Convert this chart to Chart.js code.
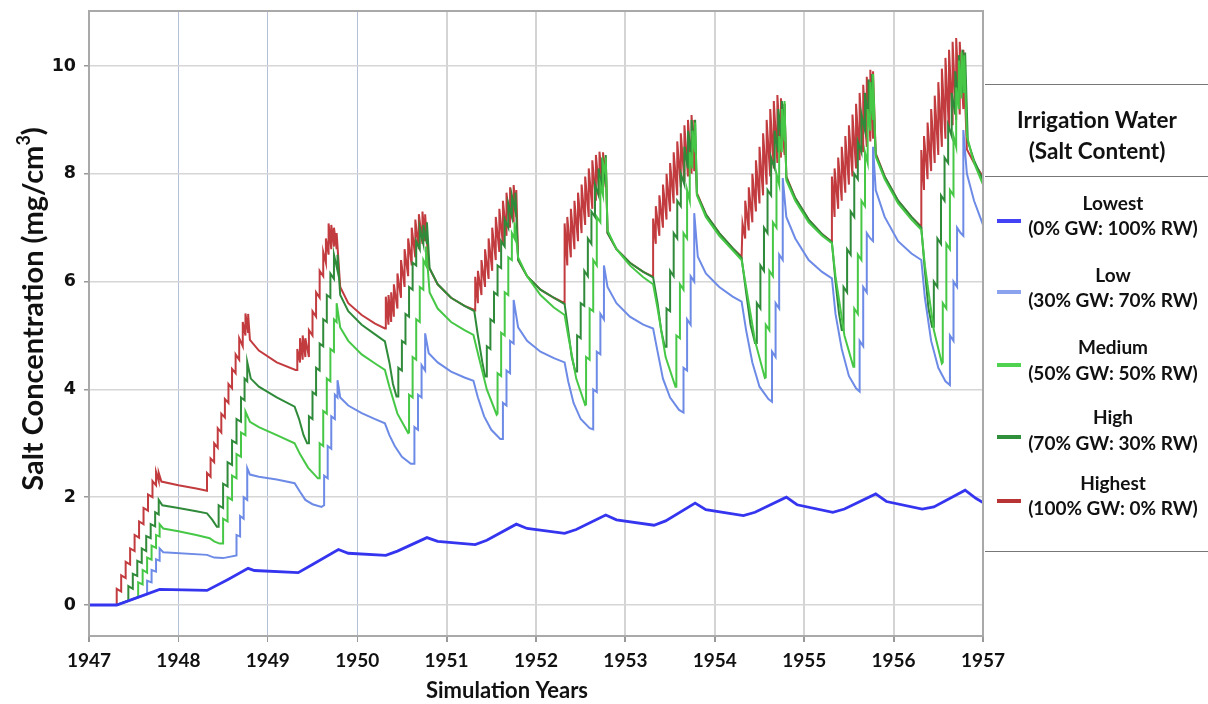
<!DOCTYPE html>
<html lang="en">
<head>
<meta charset="UTF-8">
<title>Salt Concentration - Simulation Years</title>
<script src="https://cdn.jsdelivr.net/npm/chart.js"></script>
<style>
  body { margin: 0; background: #fff; }
  #wrap { position: relative; width: 1208px; height: 704px; overflow: hidden; }
  #chart { position: absolute; left: 0; top: 0; }
  .rule { position: absolute; left: 985px; width: 223px; height: 0; border-top: 1px solid #777; }
  .txt { position: absolute; width: 240px; height: 24px; line-height: 24px; text-align: center;
         font-family: Lato, sans-serif; font-weight: bold; color: #111; white-space: nowrap; }
  .ttl { font-size: 22.5px; left: 977px; }
  .ent { font-size: 19px; left: 993px; }
  .sw { position: absolute; left: 997px; width: 24px; height: 4px; }
</style>
</head>
<body>
<div id="wrap">
  <canvas id="chart" width="1208" height="704"></canvas>

  <div class="rule" style="top:84px"></div>
  <div class="txt ttl" style="top:108px">Irrigation Water</div>
  <div class="txt ttl" style="top:139px">(Salt Content)</div>
  <div class="rule" style="top:176px"></div>

  <div class="sw" style="top:219px;background:#4343f5"></div>
  <div class="txt ent" style="top:191px">Lowest</div>
  <div class="txt ent" style="top:216px">(0% GW: 100% RW)</div>

  <div class="sw" style="top:290px;background:#8ba2ee"></div>
  <div class="txt ent" style="top:263px">Low</div>
  <div class="txt ent" style="top:288px">(30% GW: 70% RW)</div>

  <div class="sw" style="top:363px;background:#4fd24f"></div>
  <div class="txt ent" style="top:335px">Medium</div>
  <div class="txt ent" style="top:361px">(50% GW: 50% RW)</div>

  <div class="sw" style="top:435px;background:#2f8f3a"></div>
  <div class="txt ent" style="top:405px">High</div>
  <div class="txt ent" style="top:431px">(70% GW: 30% RW)</div>

  <div class="sw" style="top:499px;background:#b83434"></div>
  <div class="txt ent" style="top:471px">Highest</div>
  <div class="txt ent" style="top:496px">(100% GW: 0% RW)</div>

  <div class="rule" style="top:551px"></div>
</div>
<script>
// tick labels
const yearTicks = [1947, 1948, 1949, 1950, 1951, 1952, 1953, 1954, 1955, 1956, 1957];
const concTicks = [0, 2, 4, 6, 8, 10];

// series values, [simulation year, salt concentration mg/cm3]
const lowestPts = [
  [1947,0],[1947.31,0],[1947.79,0.29],[1948.32,0.27],[1948.55,0.47],[1948.78,0.68],[1948.85,0.64],
  [1949.34,0.6],[1949.5,0.75],[1949.79,1.03],[1949.9,0.96],[1950.32,0.92],[1950.45,1.0],[1950.78,1.25],
  [1950.9,1.18],[1951.32,1.12],[1951.45,1.2],[1951.78,1.5],[1951.9,1.42],[1952.32,1.33],[1952.45,1.4],
  [1952.78,1.67],[1952.9,1.58],[1953.32,1.48],[1953.45,1.56],[1953.78,1.89],[1953.9,1.77],[1954.32,1.66],
  [1954.45,1.72],[1954.8,2.0],[1954.92,1.86],[1955.32,1.72],[1955.45,1.78],[1955.8,2.06],[1955.92,1.92],
  [1956.32,1.78],[1956.45,1.82],[1956.8,2.13],[1956.92,1.98],[1957,1.9]
];

const lowPts = [
  [1947,0],[1947.31,0],[1947.65,0.2],[1947.65,0.45],[1947.7,0.42],[1947.7,0.65],[1947.75,0.62],[1947.75,0.85],
  [1947.79,0.82],[1947.79,1.05],[1947.83,0.98],[1948.32,0.93],[1948.4,0.88],[1948.5,0.87],[1948.65,0.92],
  [1948.65,1.3],[1948.69,1.27],[1948.69,1.65],[1948.73,1.6],[1948.73,2.0],[1948.77,1.95],[1948.77,2.54],[1948.8,2.42],
  [1948.9,2.38],[1949.1,2.33],[1949.3,2.26],
  [1949.36,2.1],[1949.42,1.95],[1949.5,1.87],[1949.6,1.82],[1949.63,1.85],
  [1949.63,2.4],[1949.67,2.35],[1949.67,2.95],[1949.71,2.9],[1949.71,3.5],[1949.75,3.45],[1949.75,3.9],[1949.78,3.85],[1949.78,4.17],[1949.81,3.85],
  [1949.9,3.7],[1950.05,3.56],[1950.2,3.45],[1950.31,3.37],
  [1950.36,3.15],[1950.42,2.95],[1950.5,2.75],[1950.6,2.62],[1950.64,2.62],
  [1950.64,3.3],[1950.68,3.25],[1950.68,3.9],[1950.72,3.85],[1950.72,4.45],[1950.76,4.35],[1950.76,5.04],[1950.8,4.67],
  [1950.9,4.5],[1951.05,4.33],[1951.2,4.22],[1951.3,4.16],
  [1951.35,3.85],[1951.42,3.5],[1951.5,3.25],[1951.6,3.08],[1951.63,3.08],
  [1951.63,3.75],[1951.67,3.7],[1951.67,4.35],[1951.71,4.3],[1951.71,4.9],[1951.75,4.85],[1951.75,5.66],[1951.8,5.15],
  [1951.9,4.9],[1952.05,4.7],[1952.2,4.58],[1952.32,4.5],
  [1952.36,4.15],[1952.42,3.75],[1952.5,3.45],[1952.6,3.28],[1952.64,3.26],
  [1952.64,4.0],[1952.68,3.95],[1952.68,4.7],[1952.72,4.65],[1952.72,5.4],[1952.76,5.3],[1952.76,6.3],[1952.8,5.9],
  [1952.9,5.6],[1953.05,5.35],[1953.2,5.2],[1953.31,5.13],
  [1953.36,4.7],[1953.42,4.2],[1953.5,3.85],[1953.6,3.62],[1953.65,3.57],
  [1953.65,4.4],[1953.69,4.35],[1953.69,5.3],[1953.73,5.2],[1953.73,6.1],[1953.77,6.0],[1953.77,7.27],[1953.81,6.46],
  [1953.9,6.15],[1954.05,5.9],[1954.2,5.72],[1954.3,5.63],
  [1954.35,5.1],[1954.42,4.5],[1954.5,4.05],[1954.6,3.82],[1954.64,3.77],
  [1954.64,4.7],[1954.68,4.6],[1954.68,5.6],[1954.72,5.5],[1954.72,6.5],[1954.76,6.4],[1954.76,7.92],[1954.8,7.2],
  [1954.9,6.8],[1955.05,6.4],[1955.2,6.18],[1955.31,6.06],
  [1955.35,5.4],[1955.42,4.75],[1955.5,4.25],[1955.58,4.02],[1955.62,3.96],
  [1955.62,4.9],[1955.66,4.8],[1955.66,5.9],[1955.7,5.8],[1955.7,6.9],[1955.74,6.8],[1955.77,6.75],[1955.77,8.5],[1955.8,7.7],
  [1955.9,7.2],[1956.05,6.75],[1956.2,6.52],[1956.31,6.4],
  [1956.35,5.7],[1956.42,4.9],[1956.5,4.4],[1956.58,4.15],[1956.63,4.08],
  [1956.63,5.0],[1956.67,4.9],[1956.67,6.0],[1956.71,5.9],[1956.71,7.0],[1956.75,6.9],[1956.78,6.85],[1956.78,8.81],[1956.82,8.0],
  [1956.9,7.5],[1957,7.05]
];

const mediumPts = [
  [1947,0],[1947.31,0],[1947.55,0.15],[1947.55,0.42],[1947.6,0.38],[1947.6,0.65],[1947.65,0.6],[1947.65,0.88],
  [1947.7,0.84],[1947.7,1.1],[1947.75,1.06],[1947.75,1.3],[1947.79,1.27],[1947.79,1.5],[1947.83,1.42],
  [1948.0,1.37],[1948.2,1.3],[1948.35,1.24],[1948.4,1.18],[1948.46,1.14],
  [1948.5,1.14],[1948.5,1.6],[1948.55,1.55],[1948.55,2.0],[1948.6,1.95],[1948.6,2.4],[1948.65,2.35],[1948.65,2.8],
  [1948.7,2.75],[1948.7,3.2],[1948.75,3.15],[1948.75,3.59],[1948.8,3.4],
  [1948.9,3.3],[1949.1,3.15],[1949.3,3.0],
  [1949.36,2.8],[1949.45,2.55],[1949.56,2.35],
  [1949.58,2.35],[1949.58,3.0],[1949.62,2.95],[1949.62,3.6],[1949.66,3.55],[1949.66,4.2],[1949.7,4.15],[1949.7,4.75],
  [1949.74,4.7],[1949.74,5.3],[1949.77,5.25],[1949.77,5.6],[1949.81,5.15],
  [1949.9,4.9],[1950.05,4.65],[1950.2,4.48],[1950.31,4.36],
  [1950.36,4.05],[1950.45,3.55],[1950.57,3.19],
  [1950.58,3.2],[1950.58,3.9],[1950.62,3.85],[1950.62,4.6],[1950.66,4.55],[1950.66,5.3],[1950.7,5.25],[1950.7,5.9],
  [1950.74,5.85],[1950.74,6.4],[1950.77,6.3],[1950.77,6.65],[1950.81,5.8],
  [1950.9,5.5],[1951.05,5.25],[1951.2,5.1],[1951.3,5.01],
  [1951.36,4.6],[1951.45,4.0],[1951.56,3.53],
  [1951.57,3.55],[1951.57,4.3],[1951.61,4.25],[1951.61,5.05],[1951.65,5.0],[1951.65,5.8],[1951.69,5.75],[1951.69,6.45],
  [1951.73,6.4],[1951.73,6.9],[1951.76,6.8],[1951.76,7.1],[1951.8,6.45],
  [1951.9,6.1],[1952.05,5.75],[1952.2,5.52],[1952.32,5.38],
  [1952.36,5.0],[1952.45,4.2],[1952.55,3.71],
  [1952.56,3.72],[1952.56,4.6],[1952.6,4.55],[1952.6,5.5],[1952.64,5.45],[1952.64,6.4],[1952.68,6.3],[1952.68,7.2],
  [1952.72,7.1],[1952.72,7.8],[1952.75,7.6],[1952.75,8.2],[1952.78,8.0],[1952.78,8.3],[1952.8,6.95],
  [1952.9,6.6],[1953.05,6.3],[1953.2,6.08],[1953.31,5.95],
  [1953.36,5.5],[1953.45,4.6],[1953.56,4.05],
  [1953.57,4.05],[1953.57,5.0],[1953.61,4.95],[1953.61,5.95],[1953.65,5.85],[1953.65,6.9],[1953.69,6.8],[1953.69,7.7],
  [1953.72,7.5],[1953.72,8.4],[1953.75,8.1],[1953.75,8.8],[1953.78,8.4],[1953.78,8.95],[1953.8,7.6],
  [1953.9,7.2],[1954.05,6.85],[1954.2,6.58],[1954.3,6.4],
  [1954.35,5.9],[1954.45,4.9],[1954.56,4.21],
  [1954.57,4.22],[1954.57,5.2],[1954.61,5.1],[1954.61,6.2],[1954.65,6.1],[1954.65,7.1],[1954.69,7.0],[1954.69,8.0],
  [1954.72,7.8],[1954.72,8.7],[1954.75,8.4],[1954.75,9.2],[1954.78,8.6],[1954.78,9.35],[1954.8,7.88],
  [1954.9,7.5],[1955.05,7.1],[1955.2,6.85],[1955.31,6.71],
  [1955.35,6.1],[1955.45,5.0],[1955.55,4.42],
  [1955.56,4.42],[1955.56,5.5],[1955.6,5.4],[1955.6,6.5],[1955.64,6.4],[1955.64,7.5],[1955.68,7.4],[1955.68,8.4],
  [1955.71,8.2],[1955.71,9.2],[1955.74,8.8],[1955.74,9.7],[1955.77,9.0],[1955.77,9.85],[1955.8,8.32],
  [1955.9,7.9],[1956.05,7.45],[1956.2,7.15],[1956.31,6.96],
  [1956.35,6.3],[1956.45,5.1],[1956.54,4.48],
  [1956.55,4.5],[1956.55,5.6],[1956.59,5.5],[1956.59,6.7],[1956.63,6.6],[1956.63,7.7],[1956.67,7.6],[1956.67,8.7],
  [1956.7,8.5],[1956.7,9.6],[1956.73,9.2],[1956.73,10.1],[1956.76,9.4],[1956.76,10.25],[1956.79,9.5],[1956.79,10.2],[1956.82,8.7],
  [1956.9,8.2],[1957,7.8]
];

const highPts = [
  [1947,0],[1947.31,0],[1947.44,0.08],[1947.44,0.35],[1947.49,0.3],[1947.49,0.58],[1947.54,0.54],[1947.54,0.82],
  [1947.59,0.78],[1947.59,1.05],[1947.64,1.0],[1947.64,1.28],[1947.69,1.24],[1947.69,1.5],[1947.74,1.46],[1947.74,1.72],
  [1947.78,1.68],[1947.78,1.95],[1947.82,1.85],
  [1948.0,1.8],[1948.2,1.74],[1948.32,1.7],[1948.38,1.58],[1948.43,1.45],
  [1948.45,1.45],[1948.45,1.85],[1948.5,1.8],[1948.5,2.25],[1948.55,2.2],[1948.55,2.65],[1948.6,2.6],[1948.6,3.05],
  [1948.65,3.0],[1948.65,3.45],[1948.7,3.4],[1948.7,3.85],[1948.74,3.8],[1948.74,4.2],[1948.77,4.15],[1948.77,4.51],[1948.81,4.2],
  [1948.9,4.05],[1949.1,3.85],[1949.3,3.68],
  [1949.35,3.45],[1949.4,3.15],[1949.44,3.0],
  [1949.46,3.0],[1949.46,3.5],[1949.5,3.45],[1949.5,3.95],[1949.54,3.9],[1949.54,4.4],[1949.58,4.35],[1949.58,4.85],
  [1949.62,4.8],[1949.62,5.3],[1949.66,5.25],[1949.66,5.75],[1949.7,5.7],[1949.7,6.15],[1949.74,6.05],[1949.74,6.5],
  [1949.78,6.2],[1949.78,6.5],[1949.81,5.75],
  [1949.9,5.45],[1950.05,5.2],[1950.2,5.02],[1950.31,4.89],
  [1950.36,4.5],[1950.4,4.1],[1950.44,3.87],
  [1950.46,3.87],[1950.46,4.4],[1950.5,4.35],[1950.5,4.9],[1950.54,4.85],[1950.54,5.4],[1950.58,5.35],[1950.58,5.9],
  [1950.62,5.85],[1950.62,6.35],[1950.66,6.3],[1950.66,6.75],[1950.7,6.6],[1950.7,7.0],[1950.74,6.7],[1950.74,7.05],
  [1950.78,6.7],[1950.78,7.1],[1950.81,6.25],
  [1950.9,5.95],[1951.05,5.7],[1951.2,5.55],[1951.31,5.45],
  [1951.35,5.0],[1951.4,4.5],[1951.43,4.24],
  [1951.45,4.24],[1951.45,4.8],[1951.49,4.75],[1951.49,5.3],[1951.53,5.25],[1951.53,5.8],[1951.57,5.75],[1951.57,6.3],
  [1951.61,6.25],[1951.61,6.75],[1951.65,6.65],[1951.65,7.15],[1951.69,7.0],[1951.69,7.45],[1951.73,7.2],[1951.73,7.6],
  [1951.77,7.3],[1951.77,7.65],[1951.8,6.4],
  [1951.9,6.1],[1952.05,5.85],[1952.2,5.7],[1952.32,5.58],
  [1952.36,5.1],[1952.4,4.6],[1952.44,4.33],
  [1952.46,4.33],[1952.46,5.0],[1952.5,4.95],[1952.5,5.6],[1952.54,5.55],[1952.54,6.2],[1952.58,6.1],[1952.58,6.8],
  [1952.62,6.7],[1952.62,7.3],[1952.66,7.2],[1952.66,7.8],[1952.7,7.6],[1952.7,8.1],[1952.74,7.7],[1952.74,8.3],
  [1952.78,7.8],[1952.78,8.35],[1952.8,6.9],
  [1952.9,6.6],[1953.05,6.35],[1953.2,6.18],[1953.31,6.08],
  [1953.36,5.6],[1953.4,5.1],[1953.44,4.79],
  [1953.46,4.79],[1953.46,5.5],[1953.5,5.45],[1953.5,6.2],[1953.54,6.1],[1953.54,6.9],[1953.58,6.8],[1953.58,7.5],
  [1953.62,7.4],[1953.62,8.0],[1953.66,7.8],[1953.66,8.5],[1953.7,8.1],[1953.7,8.8],[1953.74,8.3],[1953.74,9.0],
  [1953.78,8.4],[1953.78,9.0],[1953.8,7.62],
  [1953.9,7.25],[1954.05,6.9],[1954.2,6.62],[1954.3,6.44],
  [1954.35,5.8],[1954.4,5.2],[1954.45,4.86],
  [1954.47,4.86],[1954.47,5.6],[1954.51,5.5],[1954.51,6.3],[1954.55,6.2],[1954.55,7.0],[1954.59,6.9],[1954.59,7.7],
  [1954.63,7.6],[1954.63,8.3],[1954.67,8.1],[1954.67,8.8],[1954.71,8.4],[1954.71,9.2],[1954.75,8.6],[1954.75,9.35],
  [1954.78,8.7],[1954.78,9.3],[1954.8,7.93],
  [1954.9,7.55],[1955.05,7.15],[1955.2,6.88],[1955.31,6.73],
  [1955.35,6.0],[1955.39,5.4],[1955.42,5.1],
  [1955.44,5.1],[1955.44,5.9],[1955.48,5.8],[1955.48,6.6],[1955.52,6.5],[1955.52,7.3],[1955.56,7.2],[1955.56,8.0],
  [1955.6,7.9],[1955.6,8.6],[1955.64,8.4],[1955.64,9.1],[1955.68,8.8],[1955.68,9.5],[1955.72,9.0],[1955.72,9.75],
  [1955.76,9.1],[1955.76,9.85],[1955.8,8.35],
  [1955.9,7.95],[1956.05,7.5],[1956.2,7.2],[1956.31,7.0],
  [1956.35,6.2],[1956.39,5.5],[1956.43,5.16],
  [1956.45,5.16],[1956.45,6.0],[1956.49,5.9],[1956.49,6.8],[1956.53,6.7],[1956.53,7.6],[1956.57,7.5],[1956.57,8.3],
  [1956.61,8.2],[1956.61,8.9],[1956.65,8.7],[1956.65,9.5],[1956.69,9.1],[1956.69,9.9],[1956.73,9.4],[1956.73,10.2],
  [1956.77,9.5],[1956.77,10.3],[1956.8,9.6],[1956.8,10.25],[1956.83,8.6],
  [1956.9,8.25],[1957,7.88]
];

const highestPts = [
  [1947,0],[1947.31,0],[1947.31,0.3],[1947.36,0.25],[1947.36,0.55],[1947.41,0.5],[1947.41,0.8],[1947.46,0.75],
  [1947.46,1.05],[1947.51,1.0],[1947.51,1.3],[1947.56,1.25],[1947.56,1.55],[1947.61,1.5],[1947.61,1.8],[1947.66,1.75],
  [1947.66,2.05],[1947.71,2.0],[1947.71,2.3],[1947.75,2.22],[1947.75,2.47],[1947.78,2.3],[1947.78,2.45],[1947.81,2.29],
  [1948.0,2.22],[1948.2,2.16],[1948.32,2.12],
  [1948.32,2.45],[1948.36,2.38],[1948.36,2.72],[1948.4,2.65],[1948.4,3.0],[1948.44,2.92],[1948.44,3.28],[1948.48,3.2],
  [1948.48,3.55],[1948.52,3.48],[1948.52,3.82],[1948.56,3.75],[1948.56,4.1],[1948.6,4.02],[1948.6,4.38],[1948.64,4.3],
  [1948.64,4.65],[1948.68,4.55],[1948.68,4.95],[1948.72,4.8],[1948.72,5.25],[1948.75,5.0],[1948.75,5.41],[1948.78,5.05],
  [1948.78,5.4],[1948.8,4.92],
  [1948.9,4.72],[1949.1,4.5],[1949.31,4.36],
  [1949.33,4.36],[1949.33,4.75],[1949.36,4.5],[1949.36,4.95],[1949.39,4.55],[1949.39,5.0],[1949.42,4.6],[1949.42,4.95],[1949.46,4.6],
  [1949.46,5.1],[1949.5,5.0],[1949.5,5.45],[1949.54,5.35],[1949.54,5.8],[1949.58,5.7],[1949.58,6.2],[1949.62,6.1],
  [1949.62,6.55],[1949.65,6.35],[1949.65,6.8],[1949.68,6.5],[1949.68,7.08],[1949.71,6.6],[1949.71,7.05],[1949.74,6.65],
  [1949.74,7.0],[1949.77,6.6],[1949.77,6.9],[1949.81,5.9],
  [1949.9,5.6],[1950.05,5.38],[1950.2,5.22],[1950.31,5.13],
  [1950.32,5.13],[1950.32,5.72],[1950.35,5.2],[1950.35,5.75],[1950.38,5.25],[1950.38,5.8],[1950.41,5.35],[1950.41,5.95],
  [1950.45,5.5],[1950.45,6.15],[1950.49,5.7],[1950.49,6.4],[1950.53,5.9],[1950.53,6.6],[1950.57,6.1],[1950.57,6.8],
  [1950.61,6.3],[1950.61,7.0],[1950.65,6.45],[1950.65,7.15],[1950.69,6.6],[1950.69,7.25],[1950.73,6.7],[1950.73,7.3],
  [1950.76,6.75],[1950.76,7.25],[1950.8,6.27],
  [1950.9,5.95],[1951.05,5.7],[1951.2,5.55],[1951.32,5.47],
  [1951.32,6.09],[1951.35,5.6],[1951.35,6.2],[1951.39,5.75],[1951.39,6.4],[1951.43,5.9],[1951.43,6.6],[1951.47,6.05],
  [1951.47,6.8],[1951.51,6.2],[1951.51,7.0],[1951.55,6.4],[1951.55,7.2],[1951.59,6.55],[1951.59,7.35],[1951.63,6.7],
  [1951.63,7.5],[1951.67,6.85],[1951.67,7.65],[1951.71,7.0],[1951.71,7.75],[1951.75,7.1],[1951.75,7.79],[1951.78,7.2],
  [1951.78,7.7],[1951.8,6.4],
  [1951.9,6.1],[1952.05,5.85],[1952.2,5.7],[1952.32,5.6],
  [1952.32,7.08],[1952.35,6.3],[1952.35,7.2],[1952.39,6.45],[1952.39,7.35],[1952.43,6.6],[1952.43,7.5],[1952.47,6.75],
  [1952.47,7.65],[1952.51,6.9],[1952.51,7.8],[1952.55,7.05],[1952.55,7.95],[1952.59,7.2],[1952.59,8.1],[1952.63,7.35],
  [1952.63,8.25],[1952.67,7.5],[1952.67,8.35],[1952.71,7.6],[1952.71,8.41],[1952.75,7.7],[1952.75,8.4],[1952.78,7.75],
  [1952.78,8.3],[1952.8,6.9],
  [1952.9,6.6],[1953.05,6.35],[1953.2,6.18],[1953.31,6.09],
  [1953.31,7.17],[1953.34,6.7],[1953.34,7.4],[1953.38,6.85],[1953.38,7.6],[1953.42,7.0],[1953.42,7.8],[1953.46,7.15],
  [1953.46,8.0],[1953.5,7.3],[1953.5,8.2],[1953.54,7.45],[1953.54,8.4],[1953.58,7.6],[1953.58,8.6],[1953.62,7.75],
  [1953.62,8.75],[1953.66,7.85],[1953.66,8.9],[1953.7,7.95],[1953.7,9.0],[1953.74,8.0],[1953.74,9.09],[1953.77,8.05],
  [1953.77,9.0],[1953.8,7.64],
  [1953.9,7.25],[1954.05,6.9],[1954.2,6.62],[1954.3,6.46],
  [1954.31,7.08],[1954.34,6.8],[1954.34,7.5],[1954.38,6.95],[1954.38,7.75],[1954.42,7.1],[1954.42,8.0],[1954.46,7.3],
  [1954.46,8.25],[1954.5,7.45],[1954.5,8.5],[1954.54,7.6],[1954.54,8.75],[1954.58,7.8],[1954.58,9.0],[1954.62,7.95],
  [1954.62,9.2],[1954.66,8.1],[1954.66,9.35],[1954.7,8.2],[1954.7,9.46],[1954.74,8.3],[1954.74,9.4],[1954.78,8.35],
  [1954.78,9.3],[1954.8,7.95],
  [1954.9,7.55],[1955.05,7.15],[1955.2,6.88],[1955.31,6.74],
  [1955.31,7.95],[1955.34,7.2],[1955.34,8.1],[1955.38,7.35],[1955.38,8.3],[1955.42,7.5],[1955.42,8.5],[1955.46,7.65],
  [1955.46,8.7],[1955.5,7.8],[1955.5,8.9],[1955.54,7.95],[1955.54,9.1],[1955.58,8.1],[1955.58,9.3],[1955.62,8.25],
  [1955.62,9.5],[1955.66,8.4],[1955.66,9.65],[1955.7,8.5],[1955.7,9.8],[1955.74,8.6],[1955.74,9.93],[1955.77,8.65],
  [1955.77,9.9],[1955.8,8.38],
  [1955.9,7.95],[1956.05,7.5],[1956.2,7.2],[1956.31,7.02],
  [1956.31,8.44],[1956.34,7.7],[1956.34,8.7],[1956.38,7.9],[1956.38,8.95],[1956.42,8.05],[1956.42,9.2],[1956.46,8.2],
  [1956.46,9.45],[1956.5,8.35],[1956.5,9.7],[1956.54,8.5],[1956.54,9.95],[1956.58,8.65],[1956.58,10.15],[1956.62,8.8],
  [1956.62,10.3],[1956.66,8.9],[1956.66,10.45],[1956.7,9.0],[1956.7,10.52],[1956.74,9.1],[1956.74,10.45],[1956.78,9.2],
  [1956.78,10.3],[1956.82,8.45],
  [1956.9,8.2],[1957,7.95]
];

const blueGridYears = [1948, 1949, 1950];

const toXY = pts => pts.map(p => ({ x: p[0], y: p[1] }));

// frame round the plot plus both axis titles
const frameAndTitles = {
  id: 'frameAndTitles',
  afterDraw(chart) {
    const { ctx, chartArea: a } = chart;
    ctx.save();
    ctx.strokeStyle = '#a9a9a9';
    ctx.lineWidth = 2;
    ctx.strokeRect(a.left, a.top, a.right - a.left, a.bottom - a.top);

    ctx.fillStyle = '#111';
    ctx.textAlign = 'center';
    ctx.textBaseline = 'middle';
    ctx.font = 'bold 22px Lato';
    ctx.fillText('Simulation Years', 507, 691);

    // y title, rotated, with a raised 3
    ctx.translate(33, 309);
    ctx.rotate(-Math.PI / 2);
    ctx.textAlign = 'left';
    ctx.textBaseline = 'alphabetic';
    const mainFont = 'bold 29px Lato', supFont = 'bold 18px Lato';
    const t1 = 'Salt Concentration (mg/cm', t2 = '3', t3 = ')';
    ctx.font = mainFont;
    const w1 = ctx.measureText(t1).width, w3 = ctx.measureText(t3).width;
    ctx.font = supFont;
    const w2 = ctx.measureText(t2).width;
    let x = -(w1 + w2 + w3) / 2;
    ctx.font = mainFont;
    ctx.fillText(t1, x, 10);
    x += w1;
    ctx.font = supFont;
    ctx.fillText(t2, x, -3);
    x += w2;
    ctx.font = mainFont;
    ctx.fillText(t3, x, 10);
    ctx.restore();
  }
};

const lineSet = (label, pts, color, width) => ({
  label, data: toXY(pts), borderColor: color, backgroundColor: color,
  borderWidth: width, pointRadius: 0, tension: 0, fill: false
});

new Chart(document.getElementById('chart'), {
  type: 'line',
  data: {
    datasets: [
      lineSet('Lowest', lowestPts, '#3535f0', 2.8),
      lineSet('Low', lowPts, '#6d8be6', 2),
      lineSet('Medium', mediumPts, '#46c846', 2),
      lineSet('High', highPts, '#2f8a3a', 2),
      lineSet('Highest', highestPts, '#c23c3f', 2)
    ]
  },
  options: {
    responsive: false,
    animation: false,
    layout: { padding: { top: 11, right: 225, left: 0, bottom: 0 } },
    plugins: { legend: { display: false }, tooltip: { enabled: false } },
    scales: {
      x: {
        type: 'linear',
        min: 1947,
        max: 1957,
        afterBuildTicks: s => { s.ticks = yearTicks.map(v => ({ value: v })); },
        afterFit: s => { s.height = 68; s.paddingLeft = 0; s.paddingRight = 0; },
        ticks: {
          autoSkip: false,
          maxRotation: 0,
          padding: 7,
          color: '#111',
          font: { family: 'Lato', weight: 'bold', size: 19 },
          callback: v => String(v)
        },
        grid: {
          color: c => blueGridYears.includes(c.tick && c.tick.value) ? '#b4bfd8' : '#d4d4d4',
          lineWidth: c => blueGridYears.includes(c.tick && c.tick.value) ? 1 : 2,
          tickLength: 6,
          tickColor: '#999'
        },
        border: { display: false }
      },
      y: {
        min: -0.575,
        max: 11.02,
        afterBuildTicks: s => { s.ticks = concTicks.map(v => ({ value: v })); },
        afterFit: s => { s.width = 89; s.paddingTop = 0; s.paddingBottom = 0; },
        ticks: {
          padding: 8,
          color: '#111',
          font: { family: 'DejaVu Sans', weight: 'bold', size: 17.5 }
        },
        grid: { color: '#d6d6d6', lineWidth: 1.5, tickLength: 5, tickColor: '#999' },
        border: { display: false }
      }
    }
  },
  plugins: [frameAndTitles]
});
</script>
</body>
</html>
